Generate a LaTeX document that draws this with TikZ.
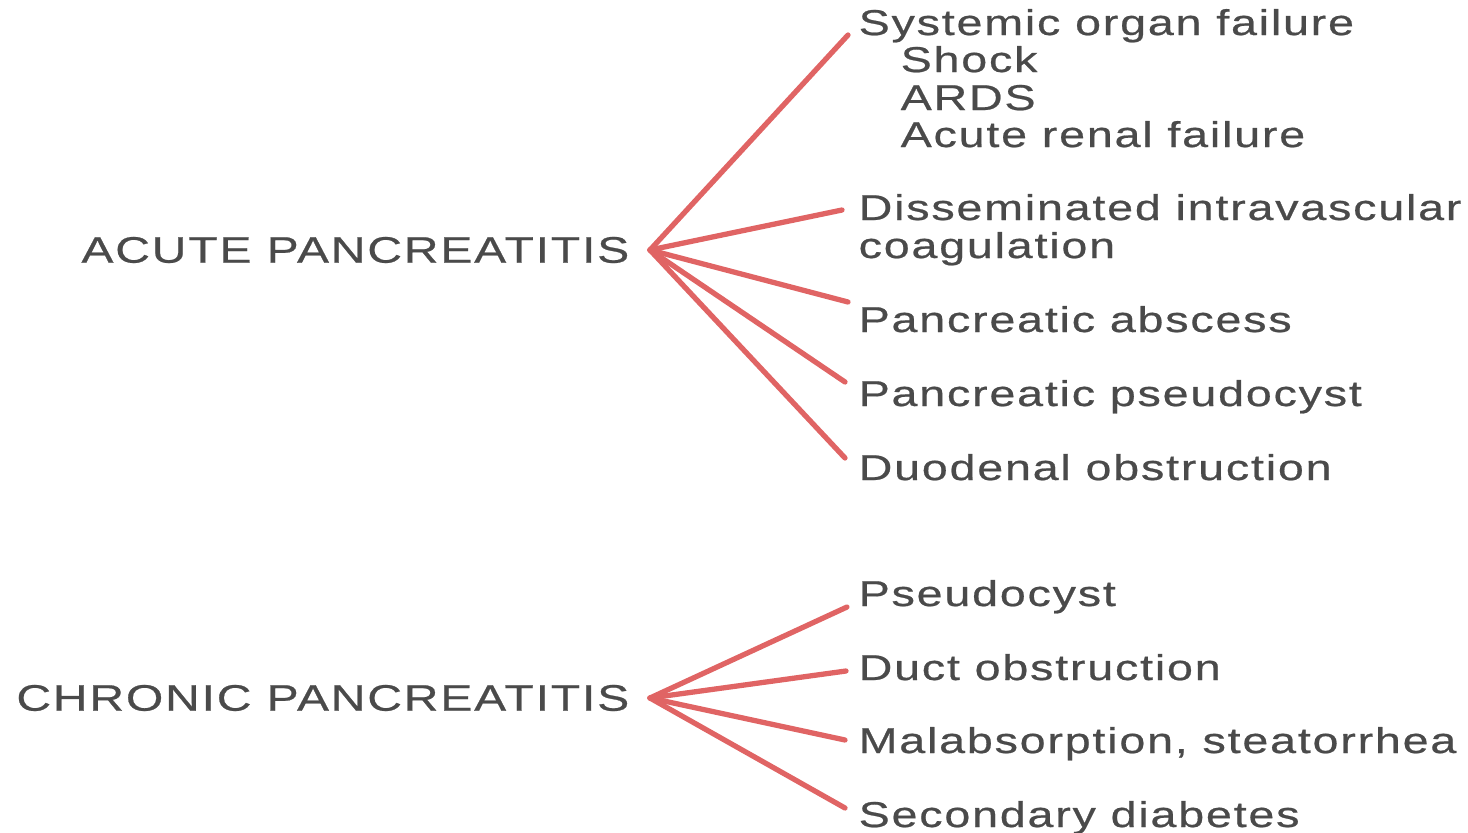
\documentclass[tikz,border=0pt]{standalone}
\usepackage{fontspec}
\setmainfont{Liberation Sans}[FakeStretch=1.3, LetterSpace=5, FakeBold=0.6]
\usetikzlibrary{positioning}
\definecolor{linkred}{HTML}{E06464}
\definecolor{textgray}{HTML}{4A4A4A}
\tikzstyle{disease} = [
    inner xsep=0.2cm, inner ysep=0pt, anchor=east, text=textgray,
    font=\fontsize{10.5}{12}\selectfont
]
\tikzstyle{item} = [
    inner sep=0pt, anchor=base west, text=textgray,
    font=\fontsize{10.2}{12}\selectfont
]
\tikzstyle{link} = [draw=linkred, line width=1.5pt, line cap=round]

\begin{document}
\begin{tikzpicture}[x=0.01cm, y=-0.01cm]
    \useasboundingbox (0,0) rectangle (1468,833);
    % Diseases
    \node[disease] (acute) at (650,250) {ACUTE PANCREATITIS};
    \node[disease] (chronic) at (650,698) {CHRONIC PANCREATITIS};
    % Acute complications
    \node[item] (sys) at (858,35) {Systemic organ failure};
    \node[item] (shock) at (900,72) {Shock};
    \node[item] (ards) at (900,110) {ARDS};
    \node[item] (arf) at (900,147) {Acute renal failure};
    \node[item] (dic) at (858,220) {Disseminated intravascular};
    \node[item] (coag) at (858,258) {coagulation};
    \node[item] (abscess) at (858,332) {Pancreatic abscess};
    \node[item] (pcyst) at (858,406) {Pancreatic pseudocyst};
    \node[item] (duod) at (858,480) {Duodenal obstruction};
    % Chronic complications
    \node[item] (cyst) at (858,606) {Pseudocyst};
    \node[item] (duct) at (858,680) {Duct obstruction};
    \node[item] (malab) at (858,753) {Malabsorption, steatorrhea};
    \node[item] (diab) at (858,827) {Secondary diabetes};
    % Line ends
    \coordinate (sysEnd) at (848,35);
    \coordinate (dicEnd) at (842,210);
    \coordinate (abscessEnd) at (848,302);
    \coordinate (pcystEnd) at (845,382);
    \coordinate (duodEnd) at (845,458);
    \coordinate (cystEnd) at (847,607);
    \coordinate (ductEnd) at (846,671);
    \coordinate (malabEnd) at (845,740);
    \coordinate (diabEnd) at (845,808);
    % Links
    \foreach \e in {sysEnd, dicEnd, abscessEnd, pcystEnd, duodEnd}
        \draw[link] (acute.east) -- (\e);
    \foreach \e in {cystEnd, ductEnd, malabEnd, diabEnd}
        \draw[link] (chronic.east) -- (\e);
\end{tikzpicture}
\end{document}
